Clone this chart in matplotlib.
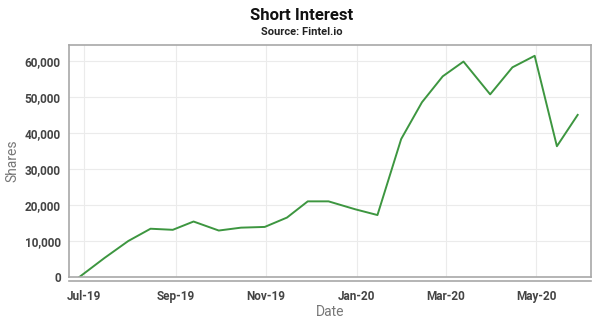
import numpy as np
import pandas as pd
import matplotlib
matplotlib.use("Agg")
import matplotlib.pyplot as plt
from matplotlib.ticker import FuncFormatter

# semi-monthly short interest settlement dates
dates = ["2019-06-28", "2019-07-15", "2019-07-31", "2019-08-15", "2019-08-30",
         "2019-09-13", "2019-09-30", "2019-10-15", "2019-10-31", "2019-11-15",
         "2019-11-29", "2019-12-13", "2019-12-31", "2020-01-15", "2020-01-31",
         "2020-02-14", "2020-02-28", "2020-03-13", "2020-03-31", "2020-04-15",
         "2020-04-30", "2020-05-15", "2020-05-29"]
shares = [0, 5300, 10000, 13400, 13100,
          15400, 12900, 13700, 13900, 16500,
          21000, 21000, 18800, 17200, 38300,
          48500, 55700, 59800, 50700, 58200,
          61400, 36300, 45000]
tick_dates = ["2019-07-01", "2019-09-01", "2019-11-01", "2020-01-01", "2020-03-01", "2020-05-01"]
tick_labels = ["Jul-19", "Sep-19", "Nov-19", "Jan-20", "Mar-20", "May-20"]

plt.rcParams['font.family'] = ['Roboto', 'DejaVu Sans']

fig = plt.figure(figsize=(6.04, 3.18), dpi=100)
ax = fig.add_axes([0.1142, 0.1289, 0.8643, 0.7296])

x = pd.to_datetime(dates)
ax.plot(x, shares, color='#3d9640', linewidth=1.4)

ax.set_xlim(pd.Timestamp("2019-06-21"), pd.Timestamp("2020-06-07"))
ax.set_ylim(0, 64400)
ax.set_xticks(pd.to_datetime(tick_dates))
ax.set_xticklabels(tick_labels)
ax.set_yticks(np.arange(0, 60001, 10000))
ax.yaxis.set_major_formatter(FuncFormatter(lambda v, p: f"{int(v):,}"))

ax.grid(True, color='#ebebeb', linewidth=0.8)
ax.set_axisbelow(True)
for s in ax.spines.values():
  s.set_color('#a8a8a8')
  s.set_linewidth(1.2)
ax.spines['bottom'].set_position(('outward', 3))
ax.axhline(0, color='#a8a8a8', linewidth=1.2, clip_on=False)
ax.tick_params(length=0, pad=6, labelsize=8.5, labelcolor='#444444')
for lbl in ax.get_xticklabels() + ax.get_yticklabels():
  lbl.set_fontweight('bold')

ax.set_ylabel("Shares", color='#777777', fontsize=10, labelpad=4)
ax.set_xlabel("Date", color='#777777', fontsize=10, labelpad=2)

fig.text(0.5, 0.952, "Short Interest", ha='center', va='center',
         fontsize=12, fontweight='bold', color='#111111')
fig.text(0.5, 0.900, "Source: Fintel.io", ha='center', va='center',
         fontsize=8, fontweight='bold', color='#222222')

fig.savefig("out.png", dpi=100)
